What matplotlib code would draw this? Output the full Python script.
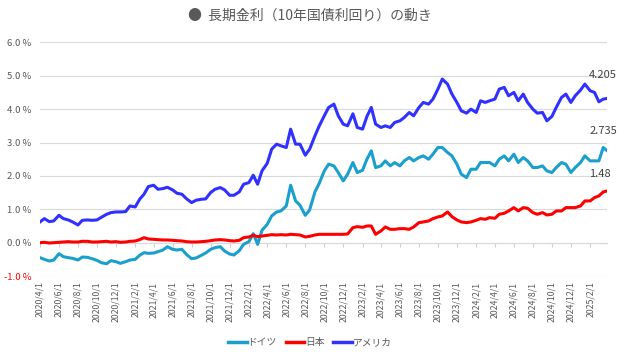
import pandas as pd
import matplotlib.pyplot as plt

plt.rcParams['font.family'] = ['Noto Sans CJK JP', 'DejaVu Sans']

# semi-monthly readings of the 10-year yields (%)
dates = [
    '2020-04-01', '2020-04-15', '2020-05-01', '2020-05-15', '2020-06-01', '2020-06-15',
    '2020-07-01', '2020-07-15', '2020-08-01', '2020-08-15', '2020-09-01', '2020-09-15',
    '2020-10-01', '2020-10-15', '2020-11-01', '2020-11-15', '2020-12-01', '2020-12-15',
    '2021-01-01', '2021-01-15', '2021-02-01', '2021-02-15', '2021-03-01', '2021-03-15',
    '2021-04-01', '2021-04-15', '2021-05-01', '2021-05-15', '2021-06-01', '2021-06-15',
    '2021-07-01', '2021-07-15', '2021-08-01', '2021-08-15', '2021-09-01', '2021-09-15',
    '2021-10-01', '2021-10-15', '2021-11-01', '2021-11-15', '2021-12-01', '2021-12-15',
    '2022-01-01', '2022-01-15', '2022-02-01', '2022-02-15', '2022-03-01', '2022-03-15',
    '2022-04-01', '2022-04-15', '2022-05-01', '2022-05-15', '2022-06-01', '2022-06-15',
    '2022-07-01', '2022-07-15', '2022-08-01', '2022-08-15', '2022-09-01', '2022-09-15',
    '2022-10-01', '2022-10-15', '2022-11-01', '2022-11-15', '2022-12-01', '2022-12-15',
    '2023-01-01', '2023-01-15', '2023-02-01', '2023-02-15', '2023-03-01', '2023-03-15',
    '2023-04-01', '2023-04-15', '2023-05-01', '2023-05-15', '2023-06-01', '2023-06-15',
    '2023-07-01', '2023-07-15', '2023-08-01', '2023-08-15', '2023-09-01', '2023-09-15',
    '2023-10-01', '2023-10-15', '2023-11-01', '2023-11-15', '2023-12-01', '2023-12-15',
    '2024-01-01', '2024-01-15', '2024-02-01', '2024-02-15', '2024-03-01', '2024-03-15',
    '2024-04-01', '2024-04-15', '2024-05-01', '2024-05-15', '2024-06-01', '2024-06-15',
    '2024-07-01', '2024-07-15', '2024-08-01', '2024-08-15', '2024-09-01', '2024-09-15',
    '2024-10-01', '2024-10-15', '2024-11-01', '2024-11-15', '2024-12-01', '2024-12-15',
    '2025-01-01', '2025-01-15', '2025-02-01', '2025-02-15', '2025-03-01', '2025-03-15',
    '2025-03-28',
]

germany = [
    -0.45, -0.50, -0.55, -0.52, -0.33, -0.42,
    -0.45, -0.47, -0.52, -0.43, -0.44, -0.48,
    -0.53, -0.60, -0.63, -0.54, -0.57, -0.62,
    -0.57, -0.52, -0.50, -0.38, -0.30, -0.32,
    -0.31, -0.27, -0.22, -0.12, -0.20, -0.22,
    -0.20, -0.35, -0.48, -0.46, -0.38, -0.31,
    -0.20, -0.15, -0.12, -0.25, -0.34, -0.37,
    -0.24, -0.05, 0.03, 0.27, -0.05, 0.37,
    0.55, 0.80, 0.92, 0.95, 1.10, 1.72,
    1.25, 1.12, 0.82, 0.98, 1.52, 1.78,
    2.15, 2.35, 2.30, 2.10, 1.85, 2.05,
    2.40, 2.10, 2.17, 2.50, 2.75, 2.25,
    2.30, 2.45, 2.30, 2.40, 2.30, 2.45,
    2.55, 2.45, 2.55, 2.60, 2.50, 2.65,
    2.85, 2.85, 2.70, 2.60, 2.35, 2.05,
    1.95, 2.20, 2.20, 2.40, 2.40, 2.40,
    2.30, 2.50, 2.60, 2.45, 2.65, 2.40,
    2.55, 2.45, 2.25, 2.25, 2.30, 2.15,
    2.10, 2.25, 2.40, 2.35, 2.10, 2.25,
    2.40, 2.60, 2.45, 2.45, 2.45, 2.85,
    2.75,
]

japan = [
    0.00, 0.01, -0.01, 0.00, 0.01, 0.02,
    0.03, 0.02, 0.02, 0.04, 0.04, 0.02,
    0.02, 0.03, 0.04, 0.02, 0.03, 0.01,
    0.02, 0.04, 0.05, 0.09, 0.15, 0.11,
    0.10, 0.09, 0.08, 0.08, 0.07, 0.06,
    0.05, 0.03, 0.02, 0.02, 0.03, 0.04,
    0.06, 0.08, 0.09, 0.08, 0.06, 0.05,
    0.07, 0.15, 0.17, 0.22, 0.18, 0.20,
    0.22, 0.24, 0.23, 0.24, 0.23, 0.25,
    0.24, 0.23, 0.17, 0.19, 0.23, 0.25,
    0.25, 0.25, 0.25, 0.25, 0.25, 0.26,
    0.45, 0.48, 0.46, 0.50, 0.50, 0.25,
    0.35, 0.47, 0.40, 0.40, 0.42, 0.42,
    0.40, 0.47, 0.60, 0.62, 0.65, 0.72,
    0.77, 0.80, 0.92, 0.78, 0.68, 0.62,
    0.60, 0.62, 0.67, 0.72, 0.70, 0.75,
    0.73, 0.85, 0.88, 0.95, 1.05, 0.95,
    1.05, 1.03, 0.90, 0.85, 0.90, 0.83,
    0.85, 0.95, 0.95, 1.05, 1.05, 1.05,
    1.10, 1.25, 1.25, 1.35, 1.40, 1.52,
    1.55,
]

usa = [
    0.62, 0.72, 0.63, 0.65, 0.82, 0.72,
    0.68, 0.62, 0.53, 0.67, 0.68, 0.67,
    0.68, 0.76, 0.85, 0.90, 0.92, 0.92,
    0.93, 1.10, 1.07, 1.30, 1.45, 1.68,
    1.72, 1.60, 1.62, 1.66, 1.58, 1.48,
    1.45, 1.32, 1.20, 1.27, 1.30, 1.31,
    1.50, 1.60, 1.65, 1.58, 1.42, 1.42,
    1.52, 1.75, 1.80, 2.02, 1.75, 2.15,
    2.38, 2.80, 2.95, 2.90, 2.85, 3.40,
    2.95, 2.95, 2.62, 2.80, 3.20, 3.50,
    3.80, 4.05, 4.15, 3.80, 3.55, 3.50,
    3.86, 3.45, 3.40, 3.78, 4.05, 3.55,
    3.45, 3.50, 3.45, 3.60, 3.65, 3.75,
    3.90, 3.80, 4.05, 4.20, 4.15, 4.30,
    4.60, 4.90, 4.75, 4.45, 4.20, 3.95,
    3.88, 4.00, 3.90, 4.25, 4.20, 4.25,
    4.30, 4.60, 4.65, 4.40, 4.50, 4.25,
    4.45, 4.20, 4.00, 3.88, 3.90, 3.65,
    3.78, 4.05, 4.35, 4.45, 4.20, 4.40,
    4.57, 4.75, 4.55, 4.50, 4.22, 4.30,
    4.32,
]

series_names = ['ドイツ', '日本', 'アメリカ']
series_colors = ['#1a9fcf', '#ff0000', '#3030ff']
end_labels = ['2.735', '1.48', '4.205']
label_rise = [14.5, 12, 17]  # points above the last value

x = pd.to_datetime(dates)
ticks = pd.date_range('2020-04-01', '2025-02-01', freq='2MS')
tick_labels = [f'{d.year}/{d.month}/{d.day}' for d in ticks]

fig = plt.figure(figsize=(6.2, 3.53), dpi=100)
ax = fig.add_axes([0.0645, 0.218, 0.915, 0.662])

for vals, name, col, lab, rise in zip([germany, japan, usa], series_names, series_colors,
                                      end_labels, label_rise):
    ax.plot(x, vals, color=col, lw=2.2, label=name)
    ax.annotate(lab, (x[-1], vals[-1]), xytext=(-13, rise), textcoords='offset points',
                ha='left', va='center', fontsize=8, color='#404040')

ax.set_ylim(-1, 6)
ax.set_xlim(x[0], x[-1])
ax.set_yticks(range(-1, 7))
ax.set_yticklabels([f'{v:.1f} %' for v in range(-1, 7)])
ax.grid(axis='y', color='#d9d9d9', lw=0.8)
ax.set_axisbelow(True)
for s in ax.spines.values():
    s.set_visible(False)
ax.tick_params(axis='y', length=0, pad=6, labelsize=6.8, labelcolor='#595959')
ax.get_yticklabels()[0].set_color('#ff0000')

ax.set_xticks(ticks)
ax.set_xticklabels(tick_labels, rotation=90)
ax.tick_params(axis='x', length=0, pad=4, labelsize=6.3, labelcolor='#595959')

# category axis crossing at 0 with small tick marks
sec = ax.secondary_xaxis(1 / 7)
sec.set_xticks(ticks)
sec.xaxis.set_ticks_position('bottom')
sec.tick_params(axis='x', length=3, color='#d0d0d0', labelbottom=False, labeltop=False)
for s in sec.spines.values():
    s.set_color('#d0d0d0')

fig.text(0.5, 0.955, '●  長期金利（10年国債利回り）の動き', ha='center', va='center',
         fontsize=10, color='#595959')

leg = fig.legend(loc='center', bbox_to_anchor=(0.5, 0.03), ncol=3, frameon=False,
                 fontsize=7, handlelength=1.9, columnspacing=0.9, handletextpad=0.1)
for t in leg.get_texts():
    t.set_color('#595959')
for h in leg.get_lines():
    h.set_linewidth(2.5)

fig.savefig('out.png', dpi=100)
